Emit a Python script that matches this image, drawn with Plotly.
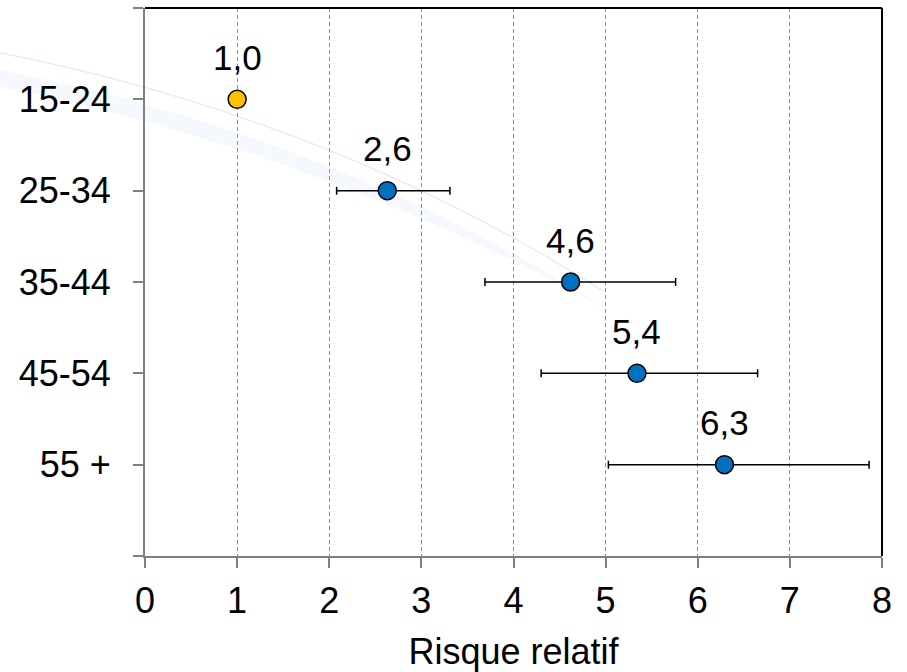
import plotly.graph_objects as go

categories = ["15-24", "25-34", "35-44", "45-54", "55 +"]
rr = [1.0, 2.63, 4.62, 5.34, 6.29]
ci_low = [None, 2.08, 3.69, 4.30, 5.03]
ci_high = [None, 3.31, 5.76, 6.65, 7.86]
labels = ["1,0", "2,6", "4,6", "5,4", "6,3"]
colors = ["#FFC000", "#0070C0", "#0070C0", "#0070C0", "#0070C0"]

ypos = [5 - i for i in range(len(categories))]
FS = 36

fig = go.Figure()

# faint decorative swoosh
fig.add_shape(type="path", xref="paper", yref="paper",
              path="M -0.197,0.887 Q 0.25,0.77 0.63,0.449 Q 0.23,0.74 -0.197,0.857 Z",
              fillcolor="rgba(205,222,238,0.2)", line=dict(width=0), layer="below")
fig.add_shape(type="path", xref="paper", yref="paper",
              path="M -0.197,0.918 Q 0.25,0.80 0.62,0.485",
              line=dict(color="rgba(175,200,225,0.4)", width=1.2), layer="below")

# reference point (no CI)
fig.add_trace(go.Scatter(
    x=[rr[0]], y=[ypos[0]], mode="markers",
    marker=dict(size=18, color=colors[0], line=dict(color="black", width=1.5)),
    showlegend=False, hoverinfo="skip"))

xs = rr[1:]
fig.add_trace(go.Scatter(
    x=xs, y=ypos[1:], mode="markers",
    marker=dict(size=18, color=colors[1], line=dict(color="black", width=1.5)),
    error_x=dict(type="data", symmetric=False,
                 array=[h - v for h, v in zip(ci_high[1:], xs)],
                 arrayminus=[v - l for l, v in zip(ci_low[1:], xs)],
                 color="black", thickness=1.5, width=4),
    showlegend=False, hoverinfo="skip"))

for x, y, t in zip(rr, ypos, labels):
    fig.add_annotation(x=x, y=y, text=t, showarrow=False, yshift=42,
                       font=dict(size=FS - 1, color="black"))

# top and right black borders
fig.add_shape(type="line", xref="paper", yref="paper", x0=0, x1=1, y0=1, y1=1,
              line=dict(color="black", width=2))
fig.add_shape(type="line", xref="paper", yref="paper", x0=1, x1=1, y0=0, y1=1,
              line=dict(color="black", width=2))

fig.update_xaxes(range=[0, 8], tickvals=list(range(9)), ticks="outside", ticklen=10,
                 tickcolor="#808080", tickwidth=1.5,
                 showline=True, linecolor="#808080", linewidth=2,
                 showgrid=True, gridcolor="#909090", griddash="4px,3px", gridwidth=1,
                 zeroline=False, tickfont=dict(size=FS, color="black"),
                 ticklabelstandoff=2,
                 title=dict(text="Risque relatif", font=dict(size=FS, color="black"), standoff=19),
                 fixedrange=True)
fig.update_yaxes(range=[0, 6], tickvals=list(range(7)),
                 ticktext=[""] + categories[::-1] + [""],
                 ticks="outside", ticklen=10, tickcolor="#808080", tickwidth=1.5,
                 showline=True, linecolor="#808080", linewidth=2,
                 showgrid=False, zeroline=False,
                 tickfont=dict(size=FS, color="black"), ticklabelstandoff=15,
                 fixedrange=True)

fig.update_layout(width=907, height=672,
                  margin=dict(l=145, r=25, t=8, b=116, autoexpand=False),
                  paper_bgcolor="white", plot_bgcolor="rgba(0,0,0,0)",
                  font=dict(family="Liberation Sans, Arial, sans-serif"))

fig.write_html("out.html")
